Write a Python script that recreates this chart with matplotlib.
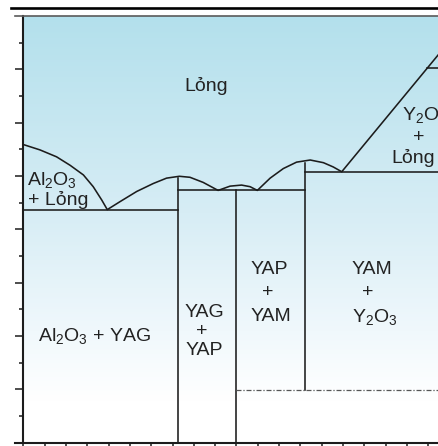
import matplotlib
matplotlib.use("Agg")
import matplotlib.pyplot as plt
import numpy as np

plt.rcParams['font.family'] = ['Liberation Sans', 'DejaVu Sans']
plt.rcParams['mathtext.fontset'] = 'custom'
plt.rcParams['mathtext.rm'] = 'Liberation Sans'
plt.rcParams['mathtext.it'] = 'Liberation Sans:italic'
plt.rcParams['mathtext.default'] = 'regular'

# liquidus, mol% Y2O3 vs temperature (C), Al2O3 side -> Y2O3 side
liquidus_x = [0, 3.9, 7.8, 11.0, 14.1, 16.4, 18.4, 19.7,
              22.7, 26.6, 30.5, 33.6, 36.6, 39.1, 42.2, 45.7,
              48.5, 51.2, 53.2, 54.9,
              57.9, 61.0, 64.1, 67.3, 70.4, 72.7, 74.7,
              100]
liquidus_t = [1959, 1949, 1936, 1920, 1902, 1880, 1855, 1837,
              1852, 1871, 1886, 1896, 1899.5, 1897.6, 1888, 1873,
              1881, 1883, 1880, 1873,
              1896, 1914, 1926, 1930, 1925, 1917, 1908,
              2153]

# eutectic isotherms: temperature, start, end
eutectic_t = [1837, 1873, 1908]
eutectic_x0 = [0, 36.4, 66.1]
eutectic_x1 = [36.4, 66.1, 100]

# compounds YAG, YAP, YAM
compound_x = [36.4, 50.0, 66.1]
compound_top = [1896, 1873, 1925]
compound_bottom = [1400, 1400, 1499]

# YAM transition (dash-dot) and Y2O3 transition
yam_trans_t = 1499
yam_trans_x = [50.0, 100]
y2o3_trans_t = 2102
y2o3_trans_x = [94.7, 100]

# two-phase labels below the solidus: (first, second), x, baselines
field_pairs = [('YAP', 'YAM'), ('YAM', 'Y$_2$O$_3$')]
field_x = [53.3, 77.0]
field_plus_x = [57.4, 80.9]
field_t = [(1716, 1673, 1629), (1716, 1673, 1627)]

# gradient stops for the background
grad_t = [1400, 1480, 1610, 1830, 2200]
grad_rgb = [(255, 255, 255), (255, 255, 255), (240, 248, 252),
            (215, 237, 245), (179, 224, 236)]

fig = plt.figure(figsize=(4.39, 4.46), dpi=100)
ax = fig.add_axes([23.3 / 439, 3.3 / 446, 426.3 / 439, 426.7 / 446])
ax.set_xlim(0, 100)
ax.set_ylim(1400, 2200)

# vertical colour gradient
tt = np.linspace(1400, 2200, 400)
rgb = np.array(grad_rgb, dtype=float) / 255.0
img = np.stack([np.interp(tt, grad_t, rgb[:, k]) for k in range(3)], axis=-1)
ax.imshow(img[:, None, :], extent=[0, 100, 1400, 2200], aspect='auto',
          origin='lower', zorder=0, interpolation='bilinear')

lc = '#1c1c1c'
lw = 1.15
ax.plot(liquidus_x, liquidus_t, color=lc, lw=lw, zorder=3, solid_joinstyle='round')
for t, a, b in zip(eutectic_t, eutectic_x0, eutectic_x1):
    ax.plot([a, b], [t, t], color=lc, lw=lw, zorder=3)
for x, top, bot in zip(compound_x, compound_top, compound_bottom):
    ax.plot([x, x], [bot, top], color=lc, lw=lw, zorder=3)
ax.plot(yam_trans_x, [yam_trans_t, yam_trans_t], color='#555555', lw=0.9,
        dashes=(4, 1.5, 1, 1.5), zorder=3)
ax.plot(y2o3_trans_x, [y2o3_trans_t, y2o3_trans_t], color=lc, lw=lw, zorder=3)

# frame
for s in ['top', 'right', 'bottom']:
    ax.spines[s].set_visible(False)
ax.spines['left'].set_linewidth(1.5)
ax.spines['left'].set_color(lc)
ax.plot([-0.0195, 1.0], [0, 0], transform=ax.transAxes, color=lc, lw=1.5,
        clip_on=False, zorder=4)
ax.plot([-0.02, 1.05], [1.0, 1.0], transform=ax.transAxes, color='#5a5a5a',
        lw=1.2, clip_on=False, zorder=4)
ax.plot([-0.0289, 1.05], [1.0187, 1.0187], transform=ax.transAxes, color='black',
        lw=1.9, clip_on=False, zorder=4)

ax.set_yticks(np.arange(1500, 2101, 100))
ax.set_yticks(np.arange(1450, 2200, 100), minor=True)
ax.set_xticks(np.arange(0, 101, 5))
ax.tick_params(axis='y', which='major', direction='out', length=5.8, width=1.1,
               color=lc, labelleft=False)
ax.tick_params(axis='y', which='minor', direction='out', length=2.9, width=1.1,
               color=lc)
ax.tick_params(axis='x', which='major', direction='out', length=5, width=1.1,
               color=lc, labelbottom=False)

tc = '#222222'
fs = 14
ax.text(42.9, 2059, 'Lỏng', fontsize=fs, color=tc, ha='center', va='baseline')
ax.text(0.9, 1883, 'Al$_2$O$_3$', fontsize=fs, color=tc, ha='left', va='baseline')
ax.text(1.1, 1845.5, '+ Lỏng', fontsize=fs, color=tc, ha='left', va='baseline')
ax.text(16.8, 1591, 'Al$_2$O$_3$ + YAG', fontsize=fs, color=tc, ha='center',
        va='baseline')

# YAG + YAP as one block (last line baseline)
ax.text(37.9, 1564, 'YAG\n+ \nYAP', fontsize=fs, color=tc, ha='left',
        va='baseline', multialignment='center', linespacing=1.15)

for (top_lab, bot_lab), x, px, (t0, t1, t2) in zip(field_pairs, field_x,
                                                    field_plus_x, field_t):
    ax.text(x, t0, top_lab, fontsize=fs, color=tc, ha='left', va='baseline')
    ax.text(px, t1, '+', fontsize=fs, color=tc, ha='center', va='baseline')
    ax.text(x, t2, bot_lab, fontsize=fs, color=tc, ha='left', va='baseline')

ax.text(88.8, 2005, 'Y$_2$O$_3$', fontsize=fs, color=tc, ha='left', va='baseline')
ax.text(92.8, 1964, '+', fontsize=fs, color=tc, ha='center', va='baseline')
ax.text(86.4, 1924, 'Lỏng', fontsize=fs, color=tc, ha='left', va='baseline')

fig.savefig('out.png', dpi=100)
